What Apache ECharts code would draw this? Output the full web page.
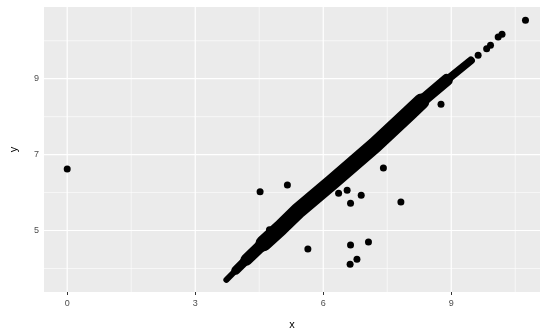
<!DOCTYPE html>
<html>
<head>
<meta charset="utf-8">
<script src="https://cdn.jsdelivr.net/npm/echarts@6/dist/echarts.min.js"></script>
<style>
  html, body { margin: 0; padding: 0; background: #fff; }
  #chart { width: 540px; height: 335px; }
</style>
</head>
<body>
<div id="chart"></div>
<script>
// Diamond length (x) vs width (y), in mm
const xTicks = [0, 3, 6, 9];
const xMinor = [1.5, 4.5, 7.5, 10.5];
const yTicks = [5, 7, 9];
const yMinor = [4, 6, 8, 10];

// dense diagonal band, traced as centre lines of growing / shrinking width
const bandTip = [[3.73, 3.70], [3.95, 3.95]];
const bandLow = [[3.95, 3.95], [4.20, 4.23]];
const bandRise = [[4.20, 4.23], [4.60, 4.66]];
const bandCore = [[4.60, 4.66], [5.00, 5.07], [5.43, 5.54], [6.20, 6.27], [7.21, 7.25], [8.00, 8.08], [8.30, 8.40]];
const bandFall = [[8.30, 8.40], [8.90, 8.97]];
const bandTop = [[8.90, 8.97], [9.46, 9.48]];

// points sticking out of the band edges
const bandEdge = [[4.74, 5.02], [6.36, 5.98]];

// individual points away from the band
const outliers = [
  [0, 6.62], [4.52, 6.02], [5.16, 6.20], [6.56, 6.06], [6.89, 5.93],
  [6.64, 5.72], [7.41, 6.65], [7.82, 5.75], [5.64, 4.51], [6.64, 4.62],
  [7.06, 4.70], [6.79, 4.24], [6.63, 4.11], [8.76, 8.33],
  [9.63, 9.62], [9.83, 9.79], [9.92, 9.88], [10.10, 10.10], [10.19, 10.17],
  [10.74, 10.54]
];

const X_MIN = -0.544, X_MAX = 11.08, Y_MIN = 3.38, Y_MAX = 10.89;

const chart = echarts.init(document.getElementById('chart'));

// white panel grid lines, drawn beneath the data
const vLines = (vals, width) => vals.map(v => ({
  type: 'line', data: [[v, Y_MIN], [v, Y_MAX]], symbol: 'none', z: 1, silent: true,
  lineStyle: { color: '#ffffff', width: width }
}));
const hLines = (vals, width) => vals.map(v => ({
  type: 'line', data: [[X_MIN, v], [X_MAX, v]], symbol: 'none', z: 1, silent: true,
  lineStyle: { color: '#ffffff', width: width }
}));

const bandSeries = (data, width) => ({
  type: 'line', data: data, symbol: 'none', z: 3, silent: true,
  lineStyle: { color: '#000', width: width, cap: 'round', join: 'round', opacity: 1 }
});

const dots = (data) => ({
  type: 'scatter', data: data, symbolSize: 7, z: 4, silent: true,
  itemStyle: { color: '#000', opacity: 1 }
});

chart.setOption({
  animation: false,
  grid: { left: 38, right: 0, top: 7, bottom: 33, show: true, backgroundColor: '#EBEBEB', borderWidth: 0 },
  xAxis: {
    type: 'value', min: X_MIN, max: X_MAX,
    name: 'x', nameLocation: 'middle', nameGap: 27,
    nameTextStyle: { color: '#000', fontSize: 11, fontFamily: 'Liberation Sans' },
    axisLine: { show: false },
    axisTick: { show: true, length: 3, customValues: xTicks, lineStyle: { color: '#333' } },
    axisLabel: { customValues: xTicks, color: '#4D4D4D', fontSize: 9, margin: 7, fontFamily: 'Liberation Sans' },
    splitLine: { show: false }
  },
  yAxis: {
    type: 'value', min: Y_MIN, max: Y_MAX,
    name: 'y', nameLocation: 'middle', nameGap: 25,
    nameTextStyle: { color: '#000', fontSize: 11, fontFamily: 'Liberation Sans' },
    axisLine: { show: false },
    axisTick: { show: true, length: 3, customValues: yTicks, lineStyle: { color: '#333' } },
    axisLabel: { customValues: yTicks, color: '#4D4D4D', fontSize: 9, margin: 5, fontFamily: 'Liberation Sans' },
    splitLine: { show: false }
  },
  series: [].concat(
    vLines(xMinor, 0.6),
    hLines(yMinor, 0.6),
    vLines(xTicks, 1.2),
    hLines(yTicks, 1.2),
    [
      bandSeries(bandTip, 6),
      bandSeries(bandLow, 9),
      bandSeries(bandRise, 12),
      bandSeries(bandCore, 16),
      bandSeries(bandFall, 12),
      bandSeries(bandTop, 8),
      dots(bandEdge),
      dots(outliers)
    ]
  )
});
</script>
</body>
</html>
